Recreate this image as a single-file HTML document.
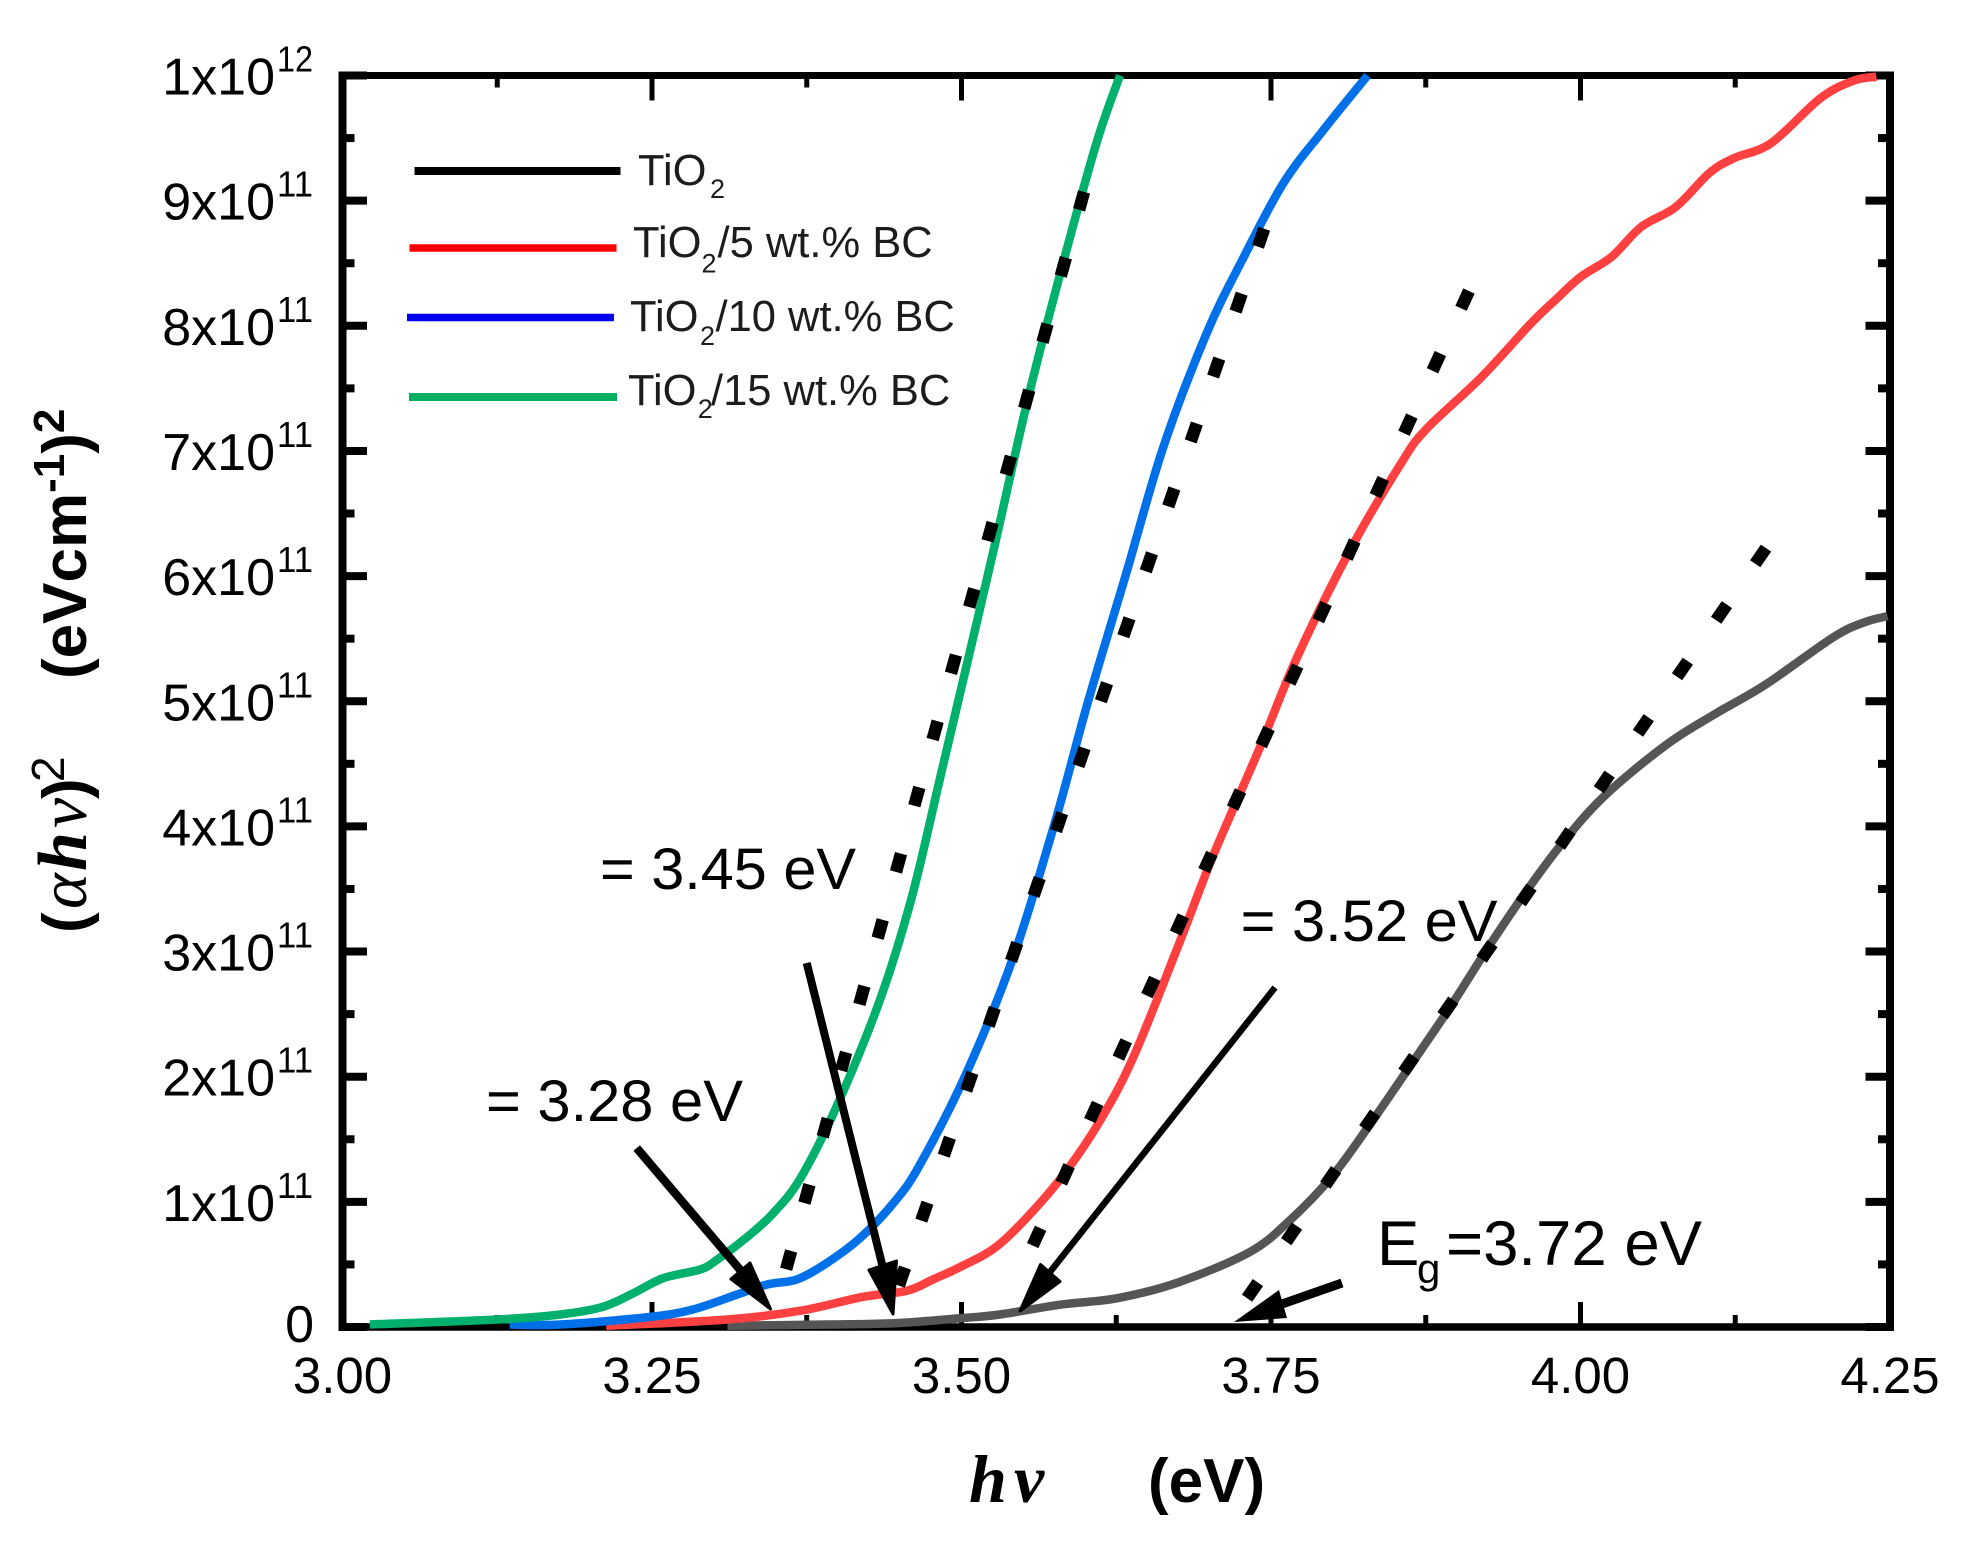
<!DOCTYPE html>
<html lang="en">
<head>
<meta charset="utf-8">
<title>Tauc plot of TiO2 and TiO2/BC composites</title>
<style>
html,body{margin:0;padding:0;background:#fff;width:1967px;height:1546px;overflow:hidden}
svg{display:block}
text{font-family:"Liberation Sans",Arial,sans-serif}
.serif{font-family:"Liberation Serif",serif}
</style>
</head>
<body>
<svg id="chart" xmlns="http://www.w3.org/2000/svg" width="1967" height="1546" viewBox="0 0 1967 1546">
  <rect width="1967" height="1546" fill="#fff"/>
  <g id="axes"></g>
  <g id="curves"></g>
  <g id="fits"></g>

  <g fill="#1c1c1c" font-size="43.5">
    <g>
      <line x1="414.5" y1="171" x2="620.5" y2="171" stroke="#000" stroke-width="8"/>
      <text y="185"><tspan x="638">TiO</tspan><tspan x="710" y="198" font-size="27">2</tspan></text>
    </g>
    <g>
      <line x1="409.5" y1="248" x2="616.5" y2="248" stroke="#ff0000" stroke-width="7.5"/>
      <text y="257"><tspan x="633">TiO</tspan><tspan x="701.5" y="272.7" font-size="27">2</tspan><tspan x="717.5" y="257">/5 wt.% BC</tspan></text>
    </g>
    <g>
      <line x1="407" y1="317.5" x2="614" y2="317.5" stroke="#0000f0" stroke-width="7.5"/>
      <text y="331"><tspan x="630">TiO</tspan><tspan x="700" y="345" font-size="27">2</tspan><tspan x="715.5" y="331">/10 wt.% BC</tspan></text>
    </g>
    <g>
      <line x1="409" y1="397" x2="617" y2="397" stroke="#00b060" stroke-width="8"/>
      <text y="405"><tspan x="628">TiO</tspan><tspan x="697.7" y="418" font-size="27">2</tspan><tspan x="711" y="405">/15 wt.% BC</tspan></text>
    </g>
  </g>

  <g fill="#000">
    <text x="600" y="889" font-size="58" textLength="256" lengthAdjust="spacingAndGlyphs">= 3.45 eV</text>
    <text x="486" y="1121" font-size="58" textLength="257" lengthAdjust="spacingAndGlyphs">= 3.28 eV</text>
    <text x="1240.6" y="941" font-size="58" textLength="257" lengthAdjust="spacingAndGlyphs">= 3.52 eV</text>
    <text y="1265" font-size="63.5"><tspan x="1377">E</tspan><tspan x="1417" y="1283" font-size="42">g</tspan><tspan x="1446" y="1265">=3.72 eV</tspan></text>

    <g>
      <line x1="636.7" y1="1148" x2="742" y2="1272" stroke="#000" stroke-width="8.5"/>
      <polygon points="770.5,1309 731,1279 750,1263" stroke="#000" stroke-width="3" stroke-linejoin="round"/>
    </g>
    <g>
      <line x1="806.7" y1="963" x2="884" y2="1272" stroke="#000" stroke-width="8"/>
      <polygon points="893,1314 869,1270 896.5,1261" stroke="#000" stroke-width="3" stroke-linejoin="round"/>
    </g>
    <g>
      <line x1="1275" y1="987.5" x2="1050" y2="1272" stroke="#000" stroke-width="6.5"/>
      <polygon points="1020,1311 1040.5,1264.5 1060,1281.5" stroke="#000" stroke-width="3" stroke-linejoin="round"/>
    </g>
    <g>
      <line x1="1342" y1="1283" x2="1282" y2="1304" stroke="#000" stroke-width="9"/>
      <polygon points="1234,1322 1279,1290 1287,1318"/>
    </g>
  </g>

  <g fill="#000" font-size="62" font-weight="bold">
    <text transform="translate(86,933) rotate(-90)"><tspan x="0" y="0">(</tspan><tspan class="serif" x="24" font-style="italic" font-weight="normal" font-size="68">α</tspan><tspan class="serif" x="62" font-style="italic" font-size="70">h</tspan><tspan class="serif" x="105" font-style="italic" font-weight="normal" font-size="68">ν</tspan><tspan x="134">)</tspan><tspan x="151" y="-22" font-size="46" font-weight="normal">2</tspan></text>
    <text transform="translate(86,679) rotate(-90)"><tspan x="0" y="0">(eVcm</tspan><tspan y="-22" font-size="44">-1</tspan><tspan y="0">)</tspan><tspan y="-22" font-size="44">2</tspan></text>
  </g>

  <g fill="#000" font-weight="bold">
    <text class="serif" y="1502" font-size="68" font-style="italic"><tspan x="969">h</tspan><tspan x="1014">ν</tspan></text>
    <text x="1148" y="1502" font-size="62">(eV)</text>
  </g>
</svg>

<script>
// Energy (eV) and (αhν)² in units of 1e11.
var energyTio2 = [3.311,3.391,3.445,3.499,3.531,3.581,3.626,3.676,3.733,3.765,3.799,3.830,3.862,3.895,3.924,3.954,3.984,4.019,4.069,4.109,4.149,4.204,4.229,4.248];
var valuesTio2 = [0.01,0.02,0.03,0.07,0.10,0.18,0.23,0.36,0.60,0.85,1.20,1.62,2.08,2.56,3.01,3.45,3.85,4.24,4.65,4.90,5.13,5.51,5.63,5.68];
var energy5 = [3.213,3.311,3.370,3.420,3.456,3.477,3.499,3.528,3.558,3.585,3.612,3.639,3.676,3.703,3.741,3.771,3.814,3.855,3.875,3.920,3.960,3.979,4.000,4.025,4.049,4.077,4.104,4.124,4.154,4.194,4.221,4.239];
var values5 = [0.01,0.06,0.13,0.24,0.29,0.38,0.48,0.64,0.93,1.25,1.65,2.16,3.07,3.76,4.63,5.35,6.21,6.90,7.17,7.59,8.02,8.20,8.39,8.55,8.79,8.95,9.22,9.34,9.46,9.82,9.96,9.99];
var energy10 = [3.135,3.176,3.248,3.283,3.319,3.343,3.367,3.391,3.418,3.445,3.466,3.504,3.542,3.576,3.602,3.633,3.663,3.698,3.727,3.760,3.792,3.828];
var values10 = [0.02,0.02,0.08,0.14,0.26,0.34,0.38,0.51,0.71,0.99,1.29,2.03,2.96,4.05,4.99,6.02,7.03,7.94,8.53,9.14,9.56,10.0];
var energy15 = [3.022,3.125,3.176,3.210,3.235,3.259,3.289,3.303,3.327,3.348,3.370,3.399,3.434,3.460,3.483,3.504,3.526,3.554,3.582,3.609,3.628];
var values15 = [0.02,0.06,0.10,0.16,0.27,0.39,0.46,0.54,0.72,0.91,1.19,1.76,2.61,3.44,4.40,5.28,6.21,7.43,8.50,9.46,10.0];

// Tauc-fit lines: [start, end] values for each sample.
var fitEnergyTio2 = [3.730,4.151];
var fitValuesTio2 = [0.22,6.24];
var fitEnergy5 = [3.557,3.910];
var fitValues5 = [0.64,8.28];
var fitEnergy10 = [3.449,3.745];
var fitValues10 = [0.32,8.79];
var fitEnergy15 = [3.358,3.599];
var fitValues15 = [0.45,9.07];

// Axis ticks.
var xMajorTicks = [3.00,3.25,3.50,3.75,4.00,4.25];
var xMajorLabels = ['3.00','3.25','3.50','3.75','4.00','4.25'];
var xMinorTicks = [3.125,3.375,3.625,3.875,4.125];
var yMajorTicks = [0,1,2,3,4,5,6,7,8,9,10];
var yMantissas = ['0','1x10','2x10','3x10','4x10','5x10','6x10','7x10','8x10','9x10','1x10'];
var yExponents = ['','11','11','11','11','11','11','11','11','11','12'];
var yMinorTicks = [0.5,1.5,2.5,3.5,4.5,5.5,6.5,7.5,8.5,9.5];

var SVGNS = 'http://www.w3.org/2000/svg';
var PLOT_LEFT = 342.5, PLOT_RIGHT = 1890, PLOT_TOP = 75.5, PLOT_BOTTOM = 1327;
var X_MIN = 3, X_MAX = 4.25, Y_MIN = 0, Y_MAX = 10;

function xScale(v){ return PLOT_LEFT + (v - X_MIN) / (X_MAX - X_MIN) * (PLOT_RIGHT - PLOT_LEFT); }
function yScale(v){ return PLOT_BOTTOM - (v - Y_MIN) / (Y_MAX - Y_MIN) * (PLOT_BOTTOM - PLOT_TOP); }

function make(tag, parent, props){
  var el = document.createElementNS(SVGNS, tag);
  for (var k in props) { el.setAttribute(k, props[k]); }
  parent.appendChild(el);
  return el;
}

function smoothPath(xs, ys){
  var pts = xs.map(function(x, i){ return [xScale(x), yScale(ys[i])]; });
  var d = 'M' + pts[0][0].toFixed(2) + ' ' + pts[0][1].toFixed(2);
  for (var i = 0; i < pts.length - 1; i++) {
    var p0 = pts[Math.max(i - 1, 0)], p1 = pts[i], p2 = pts[i + 1], p3 = pts[Math.min(i + 2, pts.length - 1)];
    var c1x = p1[0] + (p2[0] - p0[0]) / 6, c1y = p1[1] + (p2[1] - p0[1]) / 6;
    var c2x = p2[0] - (p3[0] - p1[0]) / 6, c2y = p2[1] - (p3[1] - p1[1]) / 6;
    d += 'C' + c1x.toFixed(2) + ' ' + c1y.toFixed(2) + ' ' + c2x.toFixed(2) + ' ' + c2y.toFixed(2) + ' ' + p2[0].toFixed(2) + ' ' + p2[1].toFixed(2);
  }
  return d;
}

var axes = document.getElementById('axes');
var curves = document.getElementById('curves');
var fits = document.getElementById('fits');

// Frame
var spineLeft = make('line', axes, {x1:PLOT_LEFT, y1:71.5, x2:PLOT_LEFT, y2:1331, stroke:'#000', 'stroke-width':8});


var spineRight = make('line', axes, {x1:PLOT_RIGHT, y1:71.5, x2:PLOT_RIGHT, y2:1331, stroke:'#000', 'stroke-width':8});


var spineTop = make('line', axes, {x1:PLOT_LEFT, y1:PLOT_TOP, x2:PLOT_RIGHT, y2:PLOT_TOP, stroke:'#000', 'stroke-width':7});


var spineBottom = make('line', axes, {x1:PLOT_LEFT, y1:PLOT_BOTTOM, x2:PLOT_RIGHT, y2:PLOT_BOTTOM, stroke:'#000', 'stroke-width':7.5});



// X ticks
xMajorTicks.forEach(function(v, i){
  var x = xScale(v);
  var tb = make('line', axes, {x1:x, y1:PLOT_BOTTOM, x2:x, y2:PLOT_BOTTOM - 25, stroke:'#000', 'stroke-width':5});
  
  
  var tt = make('line', axes, {x1:x, y1:PLOT_TOP, x2:x, y2:PLOT_TOP + 25, stroke:'#000', 'stroke-width':5});
  
  
  var lab = make('text', axes, {x:x, y:1393, 'font-size':51, 'text-anchor':'middle', fill:'#000'});
  
  
  lab.textContent = xMajorLabels[i];
});
xMinorTicks.forEach(function(v){
  var x = xScale(v);
  var tb = make('line', axes, {x1:x, y1:PLOT_BOTTOM, x2:x, y2:PLOT_BOTTOM - 12, stroke:'#000', 'stroke-width':5});
  
  
  var tt = make('line', axes, {x1:x, y1:PLOT_TOP, x2:x, y2:PLOT_TOP + 12, stroke:'#000', 'stroke-width':5});
  
  
});

// Y ticks
yMajorTicks.forEach(function(v, i){
  var y = yScale(v);
  var tl = make('line', axes, {x1:PLOT_LEFT - 4, y1:y, x2:PLOT_LEFT + 24.5, y2:y, stroke:'#000', 'stroke-width':8});
  
  
  var tr = make('line', axes, {x1:PLOT_RIGHT + 4, y1:y, x2:PLOT_RIGHT - 24.5, y2:y, stroke:'#000', 'stroke-width':8});
  
  
  var hasExponent = yExponents[i] !== '';
  var lab = make('text', axes, {x: hasExponent ? 275 : 314, y: y + (hasExponent ? 19 : 15), 'font-size':52, 'text-anchor':'end', fill:'#000'});
  
  
  lab.textContent = yMantissas[i];
  if (hasExponent) {
    var sup = make('text', axes, {x:277, y:y - 4, 'font-size':36, textLength:36, lengthAdjust:'spacingAndGlyphs', fill:'#000'});
    
    
    sup.textContent = yExponents[i];
  }
});
yMinorTicks.forEach(function(v){
  var y = yScale(v);
  var tl = make('line', axes, {x1:PLOT_LEFT, y1:y, x2:PLOT_LEFT + 12, y2:y, stroke:'#000', 'stroke-width':8});
  
  
  var tr = make('line', axes, {x1:PLOT_RIGHT, y1:y, x2:PLOT_RIGHT - 12, y2:y, stroke:'#000', 'stroke-width':8});
  
  
});

// Curves
var curveTio2 = make('path', curves, {d:smoothPath(energyTio2, valuesTio2), fill:'none', stroke:'#555555', 'stroke-width':8.5, 'stroke-linejoin':'round'});


var curve5 = make('path', curves, {d:smoothPath(energy5, values5), fill:'none', stroke:'#ff4040', 'stroke-width':8.5, 'stroke-linejoin':'round'});


var curve10 = make('path', curves, {d:smoothPath(energy10, values10), fill:'none', stroke:'#0070e8', 'stroke-width':8.5, 'stroke-linejoin':'round'});


var curve15 = make('path', curves, {d:smoothPath(energy15, values15), fill:'none', stroke:'#00b06c', 'stroke-width':8.5, 'stroke-linejoin':'round'});



// Dotted fit lines
function fitProps(xs, ys){
  return {x1:xScale(xs[0]), y1:yScale(ys[0]), x2:xScale(xs[1]), y2:yScale(ys[1]), stroke:'#000', 'stroke-width':12.5, 'stroke-dasharray':'19 49.7', 'stroke-dashoffset':-1.5};
}
var fitTio2 = make('line', fits, fitProps(fitEnergyTio2, fitValuesTio2));


var fit5 = make('line', fits, fitProps(fitEnergy5, fitValues5));


var fit10 = make('line', fits, fitProps(fitEnergy10, fitValues10));


var fit15 = make('line', fits, fitProps(fitEnergy15, fitValues15));


</script>
</body>
</html>
